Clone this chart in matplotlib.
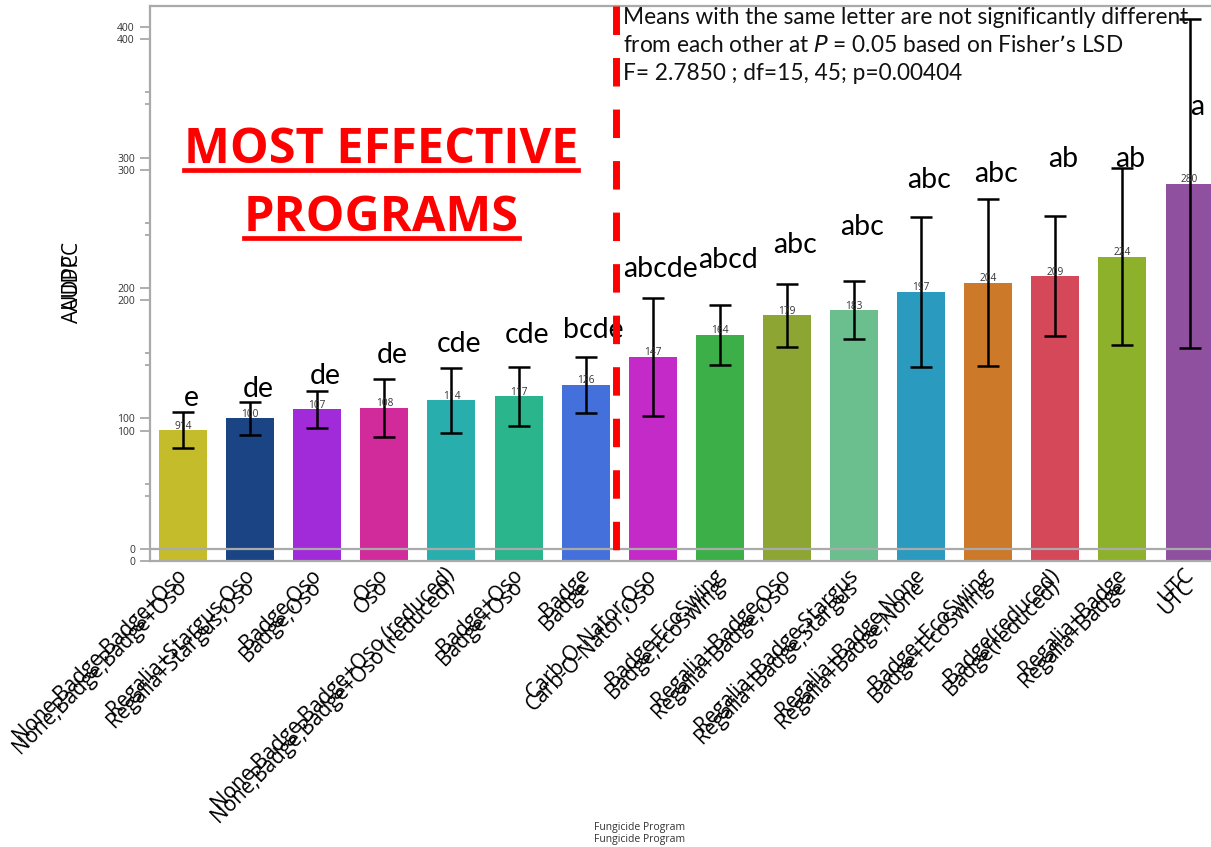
import numpy as np
import matplotlib
matplotlib.use("Agg")
import matplotlib.pyplot as plt
from matplotlib.ticker import MultipleLocator
from matplotlib.transforms import ScaledTranslation

plt.rcParams['font.family'] = ['Open Sans', 'DejaVu Sans']
plt.rcParams['lines.scale_dashes'] = False

programs = [
    "None,Badge,Badge+Oso", "Regalia+Stargus,Oso", "Badge,Oso", "Oso",
    "None,Badge,Badge+Oso (reduced)", "Badge+Oso", "Badge", "Carb-O-Nator,Oso",
    "Badge,EcoSwing", "Regalia+Badge,Oso", "Regalia+Badge,Stargus",
    "Regalia+Badge,None", "Badge+EcoSwing", "Badge(reduced)", "Regalia+Badge", "UTC",
]
audpc = [91, 100, 107, 108, 114, 117, 126, 147, 164, 179, 183, 197, 204, 209, 224, 280]
audpc_err = [13.8, 13.0, 14.4, 22.5, 25.0, 22.8, 21.5, 45.0, 23.3, 24.0, 22.1, 57.3,
             63.9, 46.0, 67.7, 126.3]
value_labels = ["914", "100", "107", "108", "114", "117", "126", "147", "164", "179",
                "183", "197", "204", "209", "224", "280"]
letters = ["e", "de", "de", "de", "cde", "cde", "bcde", "abcde", "abcd", "abc", "abc",
           "abc", "abc", "ab", "ab", "a"]
letter_y = [109.6, 116.7, 126.2, 142.3, 151.2, 158.1, 161.4, 208.7, 215.6, 227.0,
            240.6, 276.4, 281.5, 293.0, 293.0, 332.6]
bar_colors = ["#c4bc2b", "#1a4484", "#a12ad9", "#d12a9a", "#29aeae", "#2bb58c",
              "#4470dc", "#c42ac7", "#3daf48", "#8da533", "#6bbf8e", "#2a9bbf",
              "#cc792a", "#d4485a", "#8db12a", "#8e509f"]

W, H = 1211, 847
fig = plt.figure(figsize=(W / 100, H / 100), dpi=100)

# axes box in pixels: left 149.5, top 6, bottom 561 (runs past the right edge)
pos = [149.5 / W, (H - 561) / H, 1073.6 / W, 555 / H]
ax = fig.add_axes(pos)
ax2 = fig.add_axes(pos, zorder=-1)

y_lo = -9.2
ax.set_xlim(-0.5, 15.5)
ax.set_ylim(y_lo, 416.1)
ax2.set_xlim(-0.5, 15.5)
ax2.set_ylim(0, 425.3)

gray = "#aaaaaa"
for a in (ax, ax2):
    a.yaxis.set_major_locator(MultipleLocator(100))
    a.yaxis.set_minor_locator(MultipleLocator(50))
    a.tick_params(axis='y', which='major', length=7.5, width=1.1, color="#999999",
                  labelsize=7.5, labelcolor="#333333", pad=3)
    a.tick_params(axis='y', which='minor', length=3.5, width=1.1, color="#999999")
    a.set_xticks([])
for s in ax.spines.values():
    s.set_color(gray)
    s.set_linewidth(1.6)
for s in ax2.spines.values():
    s.set_visible(False)
ax2.patch.set_visible(False)

x = np.arange(len(programs))
ax.bar(x, np.array(audpc) - y_lo, bottom=y_lo, width=0.715, color=bar_colors, zorder=2)
ax.errorbar(x, audpc, yerr=audpc_err, fmt='none', ecolor='black', elinewidth=1.8,
            capsize=8.2, capthick=1.8, zorder=4)
ax.axhline(0, color=gray, lw=1.6, zorder=3)

for i in range(len(programs)):
    ax.annotate(value_labels[i], (x[i], audpc[i]), xytext=(0, 3), textcoords='offset points',
                ha='center', va='center', fontsize=7.3, color="#333333", zorder=5)
    ax.text(x[i] + 0.12, letter_y[i], letters[i], ha='center', va='baseline',
            fontsize=20.5, family=['Lato', 'DejaVu Sans'], color='black', zorder=5)

# red dashed divider
ax.plot([6.45, 6.45], [416.1, y_lo], color='red', lw=5, dashes=(20.5, 16.6),
        dash_capstyle='butt', clip_on=False, zorder=6)

# doubled x tick labels
xt = ax.get_xaxis_transform()
for dy in (-2.5, -11.2):
    off = ScaledTranslation(0, dy / 72, fig.dpi_scale_trans)
    for i, name in enumerate(programs):
        ax.text(x[i] + 0.12, 0, name, transform=xt + off, rotation=45, ha='right', va='top',
                fontsize=15, color='black')

# doubled axis titles
for yy in (276.5, 288.5):
    fig.text(72 / W, 1 - yy / H, "AUDPC", rotation=90, ha='center', va='center',
             fontsize=15, color='black')
for yy in (827, 839):
    fig.text(640 / W, 1 - yy / H, "Fungicide Program", ha='center', va='center',
             fontsize=7.5, color="#333333")

# stats note
note = ["Means with the same letter are not significantly different",
        "from each other at $\\it{P}$ = 0.05 based on Fisher\u2019s LSD",
        "F= 2.7850 ; df=15, 45; p=0.00404"]
for k, line in enumerate(note):
    fig.text(623 / W, 1 - (18 + 28 * k) / H, line, ha='left', va='center', fontsize=16.3,
             family=['Lato', 'DejaVu Sans'], color='#111111')

# highlighted heading with underline
fig.canvas.draw()
r = fig.canvas.get_renderer()
for txt, yb in (("MOST EFFECTIVE", 163), ("PROGRAMS", 231)):
    t = fig.text(381 / W, 1 - yb / H, txt, ha='center', va='baseline', fontsize=35,
                 fontweight='bold', color='red')
    bb = t.get_window_extent(r)
    yl = (H - yb - 7) / H
    fig.add_artist(plt.Line2D([bb.x0 / W, bb.x1 / W], [yl, yl], color='red', lw=3.4,
                              transform=fig.transFigure))

fig.savefig("out.png", dpi=100)
